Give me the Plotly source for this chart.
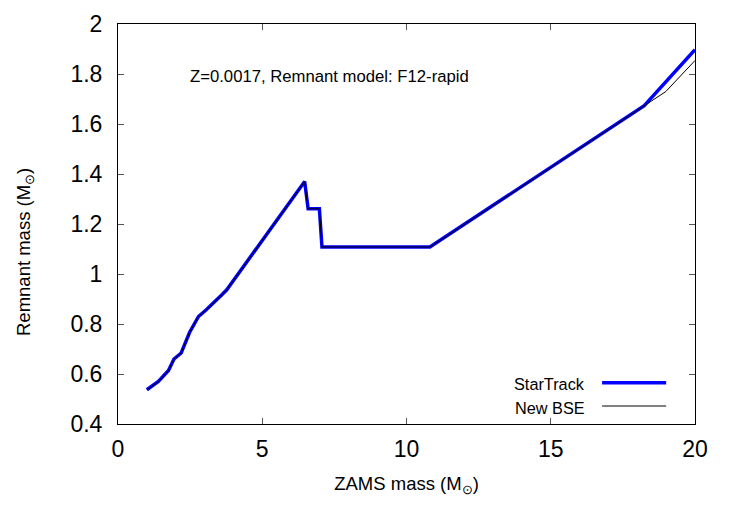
import plotly.graph_objects as go

# StarTrack (blue, thick)
st_x = [1.0, 1.40, 1.75, 1.94, 2.19, 2.48, 2.79, 3.06, 3.60, 3.77, 6.47, 6.59, 6.98, 7.07, 10.81, 14.5, 18.24, 20.0]
st_y = [0.537, 0.570, 0.614, 0.660, 0.684, 0.766, 0.830, 0.857, 0.917, 0.937, 1.370, 1.261, 1.261, 1.108, 1.108, 1.387, 1.673, 1.897]

# New BSE (black, thin)
bse_x = [1.0, 1.40, 1.75, 1.94, 2.19, 2.48, 2.79, 3.06, 3.60, 3.77, 6.47, 6.59, 6.98, 7.07, 10.81, 14.5, 18.24, 18.99, 20.0]
bse_y = [0.537, 0.570, 0.614, 0.660, 0.684, 0.766, 0.830, 0.857, 0.917, 0.937, 1.370, 1.261, 1.261, 1.108, 1.108, 1.387, 1.673, 1.730, 1.854]

x_ticks = [0, 5, 10, 15, 20]
y_ticks = [0.4, 0.6, 0.8, 1.0, 1.2, 1.4, 1.6, 1.8, 2.0]
y_ticklabels = ["0.4", "0.6", "0.8", "1", "1.2", "1.4", "1.6", "1.8", "2"]

FONT = "Liberation Sans, Arial, Helvetica, sans-serif"

fig = go.Figure()
fig.add_trace(go.Scatter(x=st_x, y=st_y, mode="lines", name="StarTrack",
                         line=dict(color="#0000ff", width=3.5), showlegend=False))
fig.add_trace(go.Scatter(x=bse_x, y=bse_y, mode="lines", name="New BSE",
                         line=dict(color="black", width=1), showlegend=False))

axis_common = dict(showgrid=False, zeroline=False, showline=True, linecolor="black",
                   linewidth=1, mirror="ticks", ticks="inside", ticklen=6,
                   tickcolor="#555555", tickfont=dict(family=FONT, size=23, color="black"))

fig.update_xaxes(range=[0, 20], tickvals=x_ticks, ticktext=[str(v) for v in x_ticks],
                 title=dict(text="ZAMS mass (M<sub>⊙</sub>)", font=dict(family=FONT, size=18.5, color="black"),
                            standoff=16),
                 ticklabelstandoff=4, **axis_common)
fig.update_yaxes(range=[0.4, 2.0], tickvals=y_ticks, ticktext=y_ticklabels,
                 ticklabelstandoff=10, **axis_common)

# y-axis title placed like the original (slightly below plot centre)
fig.add_annotation(x=25, y=0.43, xref="paper", yref="paper", xanchor="center", yanchor="middle",
                   text="Remnant mass (M<sub>⊙</sub>)", textangle=-90, showarrow=False,
                   font=dict(family=FONT, size=18.5, color="black"))
fig.layout.annotations[-1].update(x=(25 - 118) / 577)

fig.add_annotation(x=0.121, y=0.8675, xref="paper", yref="paper", xanchor="left", yanchor="middle",
                   text="Z=0.0017, Remnant model: F12-rapid", showarrow=False,
                   font=dict(family=FONT, size=16.7, color="black"))

# gnuplot-style key (text left, sample right)
legend_items = [("StarTrack", "#0000ff", 3.5, 0.103), ("New BSE", "black", 1, 0.045)]
for name, col, w, yy in legend_items:
    fig.add_annotation(x=0.813, y=yy - 0.004, xref="paper", yref="paper", xanchor="right", yanchor="middle",
                       text=name, showarrow=False, font=dict(family=FONT, size=16.3, color="black"))
    fig.add_shape(type="line", xref="paper", yref="paper", x0=0.839, x1=0.950, y0=yy, y1=yy,
                  line=dict(color=col, width=w))

fig.update_layout(width=750, height=525, margin=dict(l=118, r=55, t=24, b=101),
                  plot_bgcolor="white", paper_bgcolor="white")

fig.write_html("out.html")
